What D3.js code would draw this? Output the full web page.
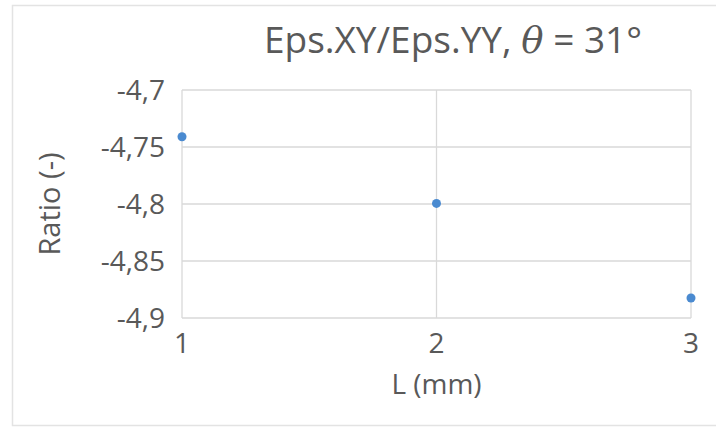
<!DOCTYPE html>
<html>
<head>
<meta charset="utf-8">
<script src="https://cdn.jsdelivr.net/npm/d3@7"></script>
<style>
  body { margin: 0; background: #fff; }
  svg { display: block; font-family: "Open Sans", "Noto Sans", sans-serif; }
</style>
</head>
<body>
<div id="chart"></div>
<script>
// chart data
var lengths = [1, 2, 3];
var ratios = [-4.741, -4.7995, -4.8825];
var yTicks = [-4.7, -4.75, -4.8, -4.85, -4.9];
var xTicks = [1, 2, 3];

var width = 716, height = 433;
var margin = { top: 90, right: 25, bottom: 115, left: 182 };
var plotW = 691 - margin.left;
var plotH = 318 - margin.top;

var svg = d3.select("#chart")
    .append("svg")
    .attr("width", width)
    .attr("height", height);

// outer chart border
svg.append("rect")
    .attr("x", 12.5).attr("y", 5.5)
    .attr("width", 720).attr("height", 420)
    .attr("fill", "none")
    .attr("stroke", "#e3e3e3")
    .attr("stroke-width", 1.5);

var g = svg.append("g")
    .attr("transform", "translate(" + margin.left + "," + margin.top + ")");

var x = d3.scaleLinear().domain([1, 3]).range([0, plotW]);
var y = d3.scaleLinear().domain([-4.9, -4.7]).range([plotH, 0]);

var fmt = function (d) { return String(d).replace(".", ","); };

// horizontal gridlines
g.selectAll(".hgrid")
    .data(yTicks)
    .enter().append("line")
    .attr("x1", 0).attr("x2", plotW)
    .attr("y1", function (d) { return y(d); })
    .attr("y2", function (d) { return y(d); })
    .attr("stroke", "#d9d9d9")
    .attr("stroke-width", 1.3);

// vertical gridlines
g.selectAll(".vgrid")
    .data(xTicks)
    .enter().append("line")
    .attr("y1", 0).attr("y2", plotH)
    .attr("x1", function (d) { return x(d); })
    .attr("x2", function (d) { return x(d); })
    .attr("stroke", "#d9d9d9")
    .attr("stroke-width", 1.3);

// y tick labels
g.selectAll(".ylab")
    .data(yTicks)
    .enter().append("text")
    .attr("x", -17)
    .attr("y", function (d) { return y(d); })
    .attr("dy", "0.35em")
    .attr("text-anchor", "end")
    .attr("font-size", 28)
    .attr("fill", "#595959")
    .text(fmt);

// x tick labels
g.selectAll(".xlab")
    .data(xTicks)
    .enter().append("text")
    .attr("x", function (d) { return x(d); })
    .attr("y", plotH + 25)
    .attr("dy", "0.35em")
    .attr("text-anchor", "middle")
    .attr("font-size", 28)
    .attr("fill", "#595959")
    .text(function (d) { return d; });

// points
g.selectAll(".pt")
    .data(lengths)
    .enter().append("circle")
    .attr("cx", function (d) { return x(d); })
    .attr("cy", function (d, i) { return y(ratios[i]); })
    .attr("r", 4.5)
    .attr("fill", "#4a8ad0");

// axis titles
svg.append("text")
    .attr("x", margin.left + plotW / 2)
    .attr("y", 384)
    .attr("dy", "0.35em")
    .attr("text-anchor", "middle")
    .attr("font-size", 28)
    .attr("fill", "#595959")
    .text("L (mm)");

svg.append("text")
    .attr("transform", "translate(50," + (margin.top + plotH / 2) + ") rotate(-90)")
    .attr("dy", "0.35em")
    .attr("text-anchor", "middle")
    .attr("font-size", 29)
    .attr("fill", "#595959")
    .text("Ratio (-)");

// title
var title = svg.append("text")
    .attr("x", 453)
    .attr("y", 40)
    .attr("dy", "0.35em")
    .attr("text-anchor", "middle")
    .attr("font-size", 37)
    .attr("fill", "#595959");
title.append("tspan").text("Eps.XY/Eps.YY,  ");
title.append("tspan").attr("font-style", "italic").attr("font-family", "DejaVu Serif").text("θ");
title.append("tspan").text(" = 31°");
</script>
</body>
</html>
